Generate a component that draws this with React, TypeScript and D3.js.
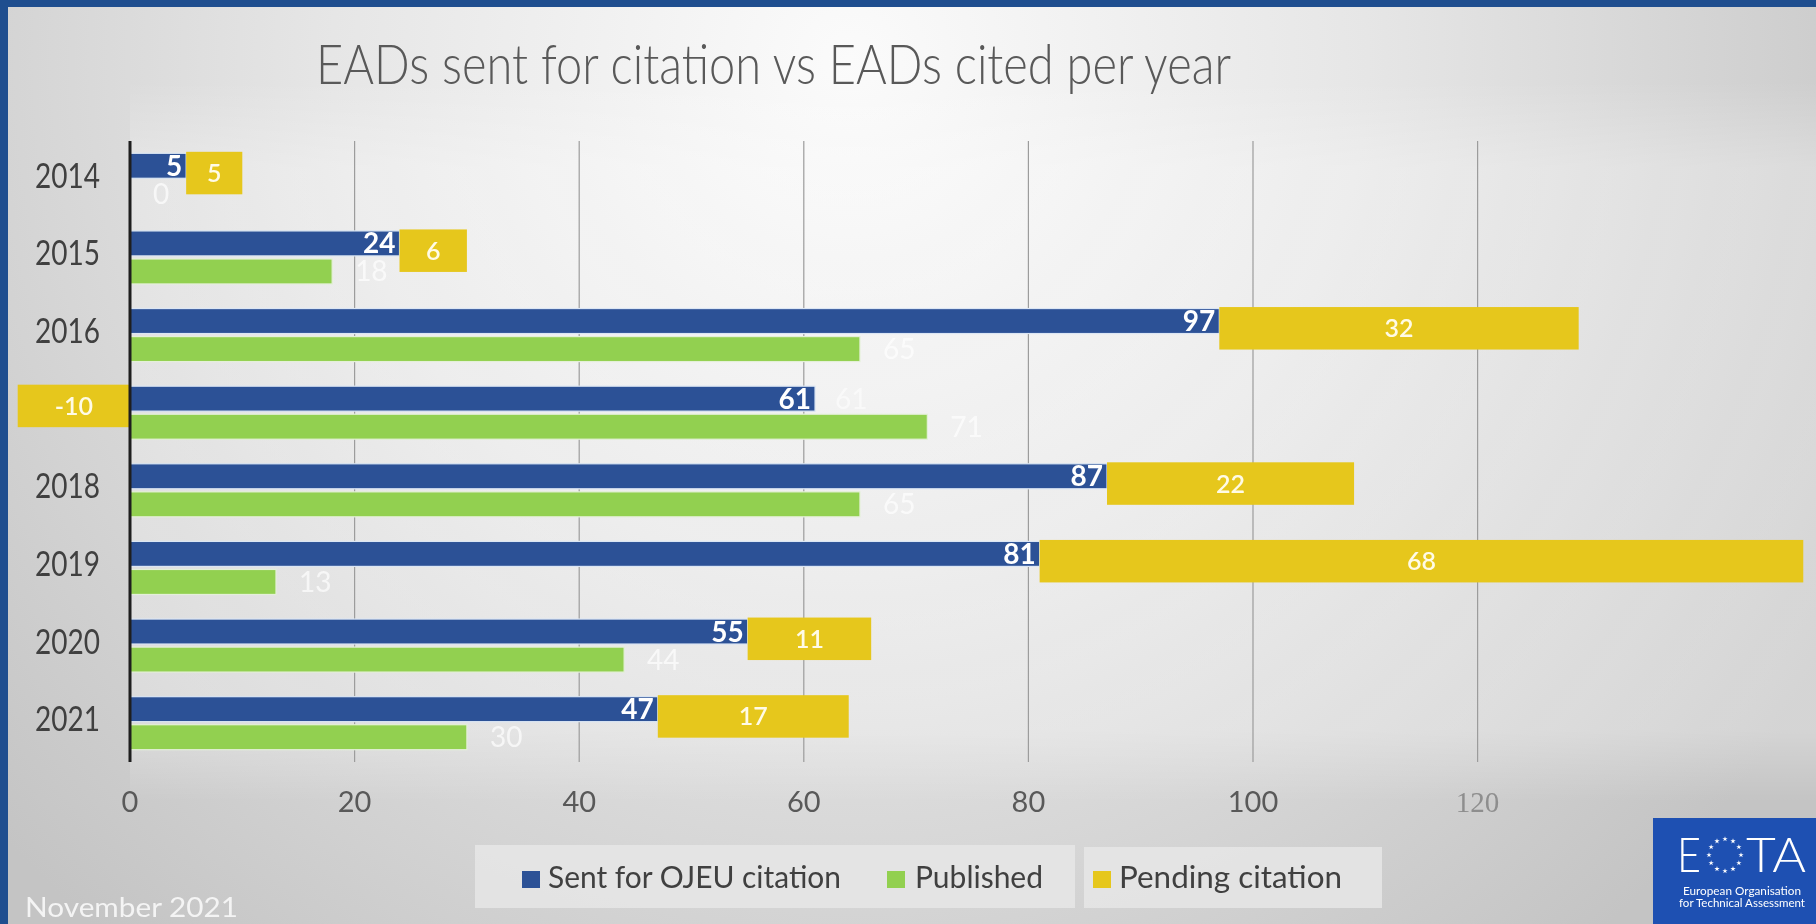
import React from "react";
import * as d3 from "d3";

const years = ["2014", "2015", "2016", "2017", "2018", "2019", "2020", "2021"];
const sent = [5, 24, 97, 61, 87, 81, 55, 47];
const published = [0, 18, 65, 71, 65, 13, 44, 30];
const pending = [5, 6, 32, -10, 22, 68, 11, 17];
const xTicks = [0, 20, 40, 60, 80, 100, 120];
const seriesNames = ["Sent for OJEU citation", "Published", "Pending citation"];
const titleText = "EADs sent for citation vs EADs cited per year";
const footnote = "November 2021";

const BLUE = "#2C5196";
const GREEN = "#92D050";
const YELLOW = "#E6C71C";
const FRAME = "#1F4E8F";
const FONT = "Lato, 'Open Sans', sans-serif";

export default function App() {
  const W = 1816;
  const H = 924;
  const plotTop = 141;
  const plotBottom = 762;

  const x = d3.scaleLinear().domain([0, 120]).range([130, 1477.6]);
  const y = d3
    .scaleBand<string>()
    .domain(years)
    .range([plotTop, plotBottom])
    .paddingInner(0.317)
    .paddingOuter(0.1585);
  const sub = d3
    .scaleBand<string>()
    .domain(["sent", "published"])
    .range([0, y.bandwidth()])
    .paddingInner(0.11);

  const rows = years.map((yr, i) => ({
    yr,
    sent: sent[i],
    pub: published[i],
    pend: pending[i],
  }));

  const starPath = d3.symbol().type(d3.symbolStar).size(9)() as string;
  const stars = d3.range(12).map((k) => {
    const a = (k / 12) * 2 * Math.PI;
    return { cx: 1725 + 16 * Math.sin(a), cy: 855 - 16 * Math.cos(a) };
  });

  const legendItems = [
    { name: seriesNames[0], color: BLUE, sx: 522, tx: 548, tl: 293 },
    { name: seriesNames[1], color: GREEN, sx: 887, tx: 915, tl: 128 },
    { name: seriesNames[2], color: YELLOW, sx: 1093, tx: 1119, tl: 223 },
  ];

  return (
    <svg
      width={W}
      height={H}
      style={{ position: "fixed", left: 0, top: 0, display: "block" }}
      fontFamily={FONT}
    >
      <defs>
        <radialGradient id="bg" cx="850" cy="60" r="1150" gradientUnits="userSpaceOnUse">
          <stop offset="0" stopColor="#fbfbfb" />
          <stop offset="0.45" stopColor="#e6e6e6" />
          <stop offset="1" stopColor="#c4c4c4" />
        </radialGradient>
        <linearGradient id="plotfade" x1="0" y1={plotTop - 60} x2="0" y2={plotBottom + 40} gradientUnits="userSpaceOnUse">
          <stop offset="0" stopColor="#ffffff" stopOpacity={0} />
          <stop offset="0.12" stopColor="#ffffff" stopOpacity={0.28} />
          <stop offset="0.9" stopColor="#ffffff" stopOpacity={0.28} />
          <stop offset="1" stopColor="#ffffff" stopOpacity={0} />
        </linearGradient>
      </defs>
      <rect x={0} y={0} width={W} height={H} fill="url(#bg)" />
      {/* plot area lighter fill */}
      <rect
        x={x(0)}
        y={plotTop - 60}
        width={W - x(0)}
        height={plotBottom - plotTop + 100}
        fill="url(#plotfade)"
      />
      {/* frame */}
      <rect x={0} y={0} width={W} height={7} fill={FRAME} />
      <rect x={0} y={0} width={8} height={H} fill={FRAME} />

      {/* title */}
      <text
        x={316}
        y={84}
        fontSize={56}
        fontWeight={300}
        fill="#595959"
        textLength={915}
        lengthAdjust="spacingAndGlyphs"
      >
        {titleText}
      </text>

      {/* gridlines */}
      {xTicks
        .filter((t) => t > 0)
        .map((t) => (
          <line
            key={t}
            x1={x(t)}
            x2={x(t)}
            y1={plotTop}
            y2={plotBottom}
            stroke="#9c9c9c"
            strokeWidth={1.2}
          />
        ))}

      {/* x tick labels */}
      {xTicks.map((t) => (
        <text
          key={t}
          x={x(t)}
          y={812}
          textAnchor="middle"
          fontSize={29}
          fill={t === 120 ? "#8e8e8e" : "#595959"}
          fontFamily={t === 120 ? "'Liberation Serif', serif" : FONT}
        >
          {t}
        </text>
      ))}

      {/* year labels (the one covered by the negative pending bar is hidden, as in the source) */}
      {rows
        .filter((r) => r.pend >= 0)
        .map((r) => (
          <text
            key={r.yr}
            x={100}
            y={(y(r.yr) as number) + y.bandwidth() / 2 + 8}
            textAnchor="end"
            fontSize={34}
            fill="#404040"
            textLength={65}
            lengthAdjust="spacingAndGlyphs"
          >
            {r.yr}
          </text>
        ))}

      {/* blue and green bars */}
      {rows.map((r) => {
        const y0 = y(r.yr) as number;
        return (
          <g key={r.yr}>
            <rect
              x={x(0)}
              y={y0 + (sub("sent") as number)}
              width={x(r.sent) - x(0)}
              height={sub.bandwidth()}
              fill={BLUE}
              stroke="#dbe6f4"
              strokeWidth={1.2}
            />
            {r.pub > 0 && (
              <rect
                x={x(0)}
                y={y0 + (sub("published") as number)}
                width={x(r.pub) - x(0)}
                height={sub.bandwidth()}
                fill={GREEN}
                stroke="#e4f0d8"
                strokeWidth={1.2}
              />
            )}
          </g>
        );
      })}

      {/* faint label of the stacked base where it is not covered */}
      {rows
        .filter((r) => r.pend < 0)
        .map((r) => (
          <text
            key={"g" + r.yr}
            x={x(r.sent) + 20}
            y={(y(r.yr) as number) + (sub("sent") as number) + sub.bandwidth() / 2 + 10}
            fontSize={28}
            fill="#ffffff"
            opacity={0.55}
          >
            {r.sent}
          </text>
        ))}

      {/* green value labels */}
      {rows.map((r) => (
        <text
          key={"u" + r.yr}
          x={x(r.pub) + 23}
          y={(y(r.yr) as number) + (sub("published") as number) + sub.bandwidth() / 2 + 10}
          fontSize={28}
          fill="#ffffff"
          opacity={0.7}
        >
          {r.pub}
        </text>
      ))}

      {/* pending (yellow) bars */}
      {rows.map((r) => {
        const y0 = (y(r.yr) as number) + (sub("sent") as number) - 1.5;
        const a = r.pend < 0 ? r.pend : r.sent;
        const b = r.pend < 0 ? 0 : r.sent + r.pend;
        return (
          <g key={"p" + r.yr}>
            <rect x={x(a)} y={y0} width={x(b) - x(a)} height={42.5} fill={YELLOW} />
            <text
              x={(x(a) + x(b)) / 2}
              y={y0 + 21.25 + 9}
              textAnchor="middle"
              fontSize={25}
              fontWeight={600}
              fill="#fffbe6"
            >
              {r.pend}
            </text>
          </g>
        );
      })}

      {/* axis line */}
      <line x1={x(0)} x2={x(0)} y1={plotTop} y2={plotBottom} stroke="#1e1e1e" strokeWidth={3} />

      {/* blue value labels */}
      {rows.map((r) => (
        <text
          key={"s" + r.yr}
          x={x(r.sent) - 4}
          y={(y(r.yr) as number) + (sub("sent") as number) + sub.bandwidth() / 2 + 10}
          textAnchor="end"
          fontSize={28}
          fontWeight={700}
          fill="#ffffff"
        >
          {r.sent}
        </text>
      ))}

      {/* legend */}
      <rect x={475} y={845} width={600} height={63} fill="#e6e6e6" opacity={0.85} />
      <rect x={1084} y={847} width={298} height={61} fill="#e6e6e6" opacity={0.85} />
      {legendItems.map((it) => (
        <g key={it.name}>
          <rect x={it.sx} y={871} width={18} height={17} fill={it.color} />
          <text
            x={it.tx}
            y={888}
            fontSize={30}
            fill="#404040"
            textLength={it.tl}
            lengthAdjust="spacingAndGlyphs"
          >
            {it.name}
          </text>
        </g>
      ))}

      {/* footnote */}
      <text
        x={25}
        y={917}
        fontSize={26}
        fill="#f4f4f4"
        textLength={213}
        lengthAdjust="spacingAndGlyphs"
      >
        {footnote}
      </text>

      {/* EOTA logo */}
      <rect x={1653} y={818} width={163} height={106} fill="#1E50B2" />
      <text x={1677} y={872} fontSize={48} fontWeight={300} fill="#ffffff" textLength={24} lengthAdjust="spacingAndGlyphs">
        E
      </text>
      {stars.map((s, k) => (
        <path key={k} d={starPath} transform={`translate(${s.cx},${s.cy})`} fill="#ffffff" />
      ))}
      <text x={1746} y={872} fontSize={48} fontWeight={300} fill="#ffffff" textLength={60} lengthAdjust="spacingAndGlyphs">
        TA
      </text>
      <text x={1742} y={895} fontSize={10.5} textAnchor="middle" fill="#ffffff" textLength={118} lengthAdjust="spacingAndGlyphs">
        European Organisation
      </text>
      <text x={1742} y={907} fontSize={10.5} textAnchor="middle" fill="#ffffff" textLength={126} lengthAdjust="spacingAndGlyphs">
        for Technical Assessment
      </text>
    </svg>
  );
}
